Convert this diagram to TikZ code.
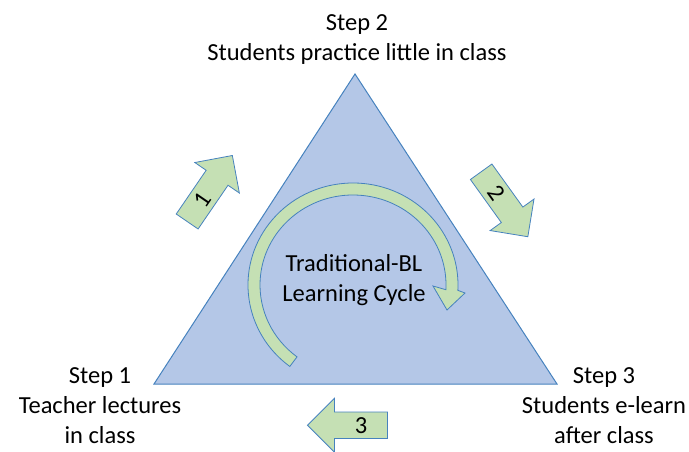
\documentclass[tikz,border=0pt]{standalone}
\usepackage{fontspec}
\setmainfont{Carlito}
\usepackage{tikz}
\usetikzlibrary{calc}

\definecolor{triblue}{RGB}{180,199,231}
\definecolor{edgeblue}{RGB}{70,130,190}
\definecolor{arrowgreen}{RGB}{197,224,180}

\tikzset{
  stepnode/.style={align=center, inner sep=0pt, font=\fontsize{24.5}{30}\selectfont},
  blockarrow/.style={draw=edgeblue, fill=arrowgreen, line width=0.8pt, line join=miter},
}

\begin{document}
\begin{tikzpicture}[x=1pt, y=1pt]
  \useasboundingbox (0,0) rectangle (689,451);
  \coordinate (apex) at (355,377);
  \coordinate (left) at (154,67);
  \coordinate (right) at (557,67);
  \filldraw[fill=triblue, draw=edgeblue, line width=1pt] (left) -- (apex) -- (right) -- cycle;

  % learning cycle arrow
  \coordinate (cyc) at (353,166);
  \filldraw[blockarrow] ($(cyc)+(233:105 and 102)$) arc[start angle=233, end angle=-3, x radius=105, y radius=102]
    -- ($(cyc)+(112,-8)$) -- ($(cyc)+(94,-25)$) -- ($(cyc)+(80,-1)$)
    -- ($(cyc)+(-3:93 and 90)$) arc[start angle=-3, end angle=233, x radius=93, y radius=90] -- cycle;
  \node[stepnode] (cycle) at (354,171) {Traditional-BL\\Learning Cycle};

  % steps
  \node[stepnode] (step2) at (357,411.5) {Step 2\\Students practice little in class};
  \node[stepnode] (step1) at (100,45) {Step 1\\Teacher lectures\\in class};
  \node[stepnode] (step3) at (604,45) {Step 3\\Students e-learn\\after class};

  % block arrows
  \foreach \cx/\cy/\ang/\tang/\lbl in {209.75/262.5/55.6/55.6/1, 504.5/246.75/-54.3/-54.3/2, 347.5/25.75/180/0/3}{
    \begin{scope}[shift={(\cx,\cy)}, rotate=\ang]
      \draw[blockarrow] (-40,-13.25) -- (13,-13.25) -- (13,-27) -- (40,0) -- (13,27) -- (13,13.25) -- (-40,13.25) -- cycle;
      \node[stepnode, rotate=\tang] (num\lbl) at (-13.5,0) {\lbl};
    \end{scope}
  }
\end{tikzpicture}
\end{document}
